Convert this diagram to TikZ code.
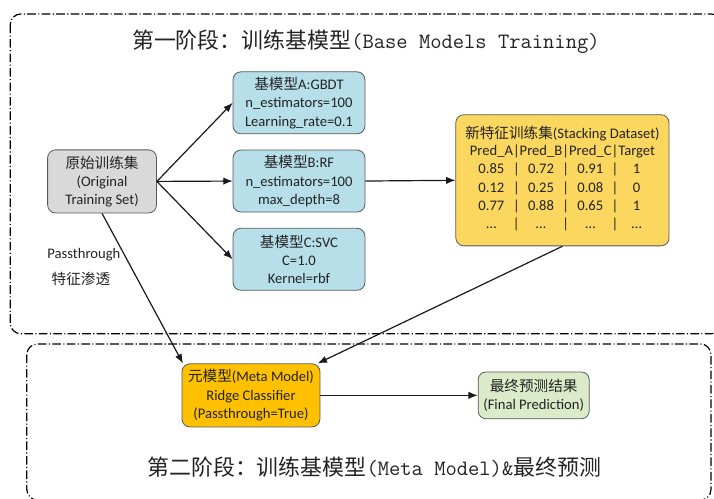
\documentclass[tikz,border=0pt]{standalone}
\usepackage{fontspec}
\setmainfont{Carlito}
\newfontfamily\cjk{Noto Sans CJK SC}
\usepackage{tikz}
\usetikzlibrary{arrows,arrows.meta,shapes,positioning}
\definecolor{skgray}{RGB}{217,217,217}
\definecolor{skblue}{RGB}{183,223,233}
\definecolor{skyellow}{RGB}{251,215,96}
\definecolor{skorange}{RGB}{255,192,0}
\definecolor{skgreen}{RGB}{219,234,200}
\definecolor{sktext}{RGB}{35,35,35}
\tikzstyle{arrow} = [line width=0.9pt,-{Latex[length=7pt,width=5.5pt]},color=black!90]
\tikzstyle{box} = [draw=black!65, line width=0.6pt, rounded corners=6pt, align=center, inner sep=2pt, text=sktext, font=\fontsize{11}{13.8}\selectfont]
\tikzstyle{basebox} = [box, fill=skblue, minimum width=3.49cm, minimum height=1.64cm]
\tikzstyle{stage} = [line width=0.9pt, rounded corners=8pt, dash pattern=on 6.5pt off 1.8pt on 0.8pt off 1.8pt]
\tikzstyle{stagetitle} = [text=sktext, font=\fontsize{16.5}{20}\selectfont]
\tikzstyle{lbl} = [text=sktext, font=\fontsize{11}{13.8}\selectfont]

\begin{document}
\begin{tikzpicture}
\useasboundingbox (0,0) rectangle (18.89,13.20);

% Stage frames
\draw[stage] (0.27,12.83) rectangle (19.10,4.37);
\draw[stage] (0.71,4.10) rectangle (18.81,-0.03);

% Stage titles
\node[stagetitle] (titleone) at (9.68,12.09) {{\cjk 第一阶段：训练基模型}\texttt{(Base Models Training)}};
\node[stagetitle] (titletwo) at (9.90,0.85) {{\cjk 第二阶段：训练基模型}\texttt{(Meta Model)\&}{\cjk 最终预测}};

% Stage 1: base models
\node[box, fill=skgray, minimum width=2.88cm, minimum height=1.67cm] (orig) at (2.70,8.40)
  {{\cjk 原始训练集}\\(Original\\Training Set)};
\node[basebox] (gbdt) at (7.91,10.48) {{\cjk 基模型}A:GBDT\\n\_estimators=100\\Learning\_rate=0.1};
\node[basebox] (rf) at (7.91,8.41) {{\cjk 基模型}B:RF\\n\_estimators=100\\max\_depth=8};
\node[basebox] (svc) at (7.91,6.34) {{\cjk 基模型}C:SVC\\C=1.0\\Kernel=rbf};
\node[box, fill=skyellow, minimum width=5.64cm, minimum height=3.47cm] (stack) at (14.88,8.43)
  {{\cjk 新特征训练集}(Stacking Dataset)\\
   \begin{tabular}{@{}c@{|}c@{|}c@{|}c@{}}
   Pred\_A&Pred\_B&Pred\_C&Target\\
   0.85 & 0.72 & 0.91 & 1\\
   0.12 & 0.25 & 0.08 & 0\\
   0.77 & 0.88 & 0.65 & 1\\
   … & … & … & …
   \end{tabular}};

% Passthrough label
\node[lbl] (pt) at (2.22,6.46) {Passthrough};
\node[lbl] (ptcn) at (2.14,5.82) {\cjk 特征渗透};

% Stage 2: meta model
\node[box, fill=skorange, minimum width=3.65cm, minimum height=1.67cm] (meta) at (6.64,2.74)
  {{\cjk 元模型}(Meta Model)\\Ridge Classifier\\(Passthrough=True)};
\node[box, fill=skgreen, minimum width=2.94cm, minimum height=1.24cm] (final) at (14.12,2.74)
  {{\cjk 最终预测结果}\\(Final Prediction)};

% Connectors
\draw[arrow] (orig.east) -- (gbdt.west);
\draw[arrow] (orig.east) -- (rf.west);
\draw[arrow] (orig.east) -- (svc.west);
\draw[arrow] (rf.east) -- (stack.west);
\draw[arrow] (orig.south) -- ([xshift=1pt]meta.north west);
\draw[arrow] (stack.south) -- ([xshift=-2pt]meta.north east);
\draw[arrow] (meta.east) -- (final.west);
\end{tikzpicture}
\end{document}
